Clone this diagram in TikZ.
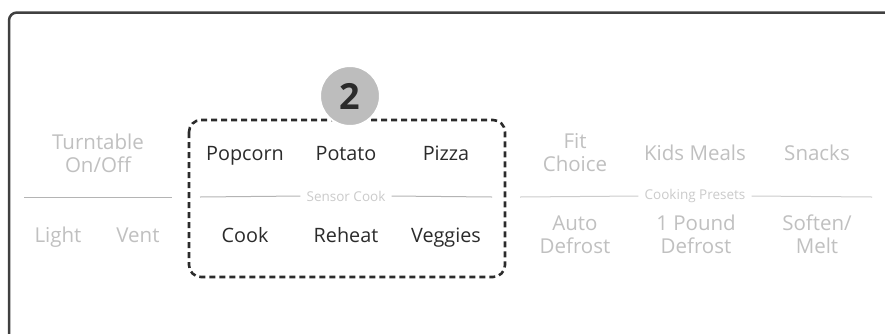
\documentclass[tikz,border=0pt]{standalone}
\usepackage{fontspec}
\setmainfont{Open Sans}
\usepackage{tikz}
\usetikzlibrary{positioning}
\definecolor{keydark}{HTML}{2B2B2B}
\definecolor{keygray}{HTML}{C0C0C0}
\definecolor{labelgray}{HTML}{CBCBCB}
\definecolor{rulegray}{HTML}{B4B4B4}
\definecolor{rulelight}{HTML}{CCCCCC}
\definecolor{badgegray}{HTML}{BDBDBD}
\tikzset{
  keyon/.style={anchor=base, text=keydark, font=\fontsize{19.8}{24}\selectfont, inner sep=0pt},
  keyoff/.style={anchor=base, text=keygray, font=\fontsize{20.5}{23}\selectfont, inner sep=0pt, align=center},
  grouplabel/.style={text=labelgray, font=\fontsize{13.5}{15}\selectfont, inner sep=0pt},
  grouprule/.style={line width=1pt},
}
\begin{document}
\begin{tikzpicture}[x=1pt,y=-1pt]
			\useasboundingbox (0,0) rectangle (885,333);
			\clip (0,0) rectangle (885,333);
			\fill[white] (0,0) rectangle (885,333);
			% panel edge
			\draw [line width=2.5pt, color=black!75, rounded corners=8pt] (9,400) -- (9,12.5) -- (960,12.5);
			% left column
			\node [keyoff] (turntable) at (98,172) {Turntable\\On/Off};
			\node [keyoff] (light) at (58,242) {Light};
			\node [keyoff] (vent) at (138,242) {Vent};
			\coordinate (leftA) at (24,197);
			\coordinate (leftB) at (172,197);
			\draw [grouprule, rulegray] (leftA) -- (leftB);
			% sensor cook
			\node [keyon] (popcorn) at (245,160) {Popcorn};
			\node [keyon] (potato) at (346,160) {Potato};
			\node [keyon] (pizza) at (446,160) {Pizza};
			\node [keyon] (cook) at (245,242) {Cook};
			\node [keyon] (reheat) at (346,242) {Reheat};
			\node [keyon] (veggies) at (446,242) {Veggies};
			\node [grouplabel] (sensor) at (346,196) {Sensor Cook};
			\coordinate (sensorA) at (200,197);
			\coordinate (sensorB) at (492,197);
			\draw [grouprule, rulegray] (sensorA) -- ([xshift=-6pt]sensor.west);
			\draw [grouprule, rulegray] ([xshift=6pt]sensor.east) -- (sensorB);
			% cooking presets
			\node [keyoff] (fit) at (575,171) {Fit\\Choice};
			\node [keyoff] (kids) at (695,160) {Kids Meals};
			\node [keyoff] (snacks) at (817,160) {Snacks};
			\node [keyoff] (auto) at (575,253) {Auto\\Defrost};
			\node [keyoff] (pound) at (696,253) {1 Pound\\Defrost};
			\node [keyoff] (soften) at (817,253) {Soften/\\Melt};
			\node [grouplabel] (presets) at (695,196) {Cooking Presets};
			\coordinate (presetA) at (520,197);
			\coordinate (presetB) at (872,197);
			\draw [grouprule, rulelight] (presetA) -- ([xshift=-6pt]presets.west);
			\draw [grouprule, rulelight] ([xshift=6pt]presets.east) -- (presetB);
			% highlight
			\draw [line width=2.6pt, color=keydark, dash pattern=on 6pt off 4pt, rounded corners=12pt] (189,120) rectangle (505,277);
			\node [circle, fill=badgegray, draw=white, line width=2pt, minimum size=60pt, inner sep=0pt, text=keydark, font=\fontsize{36}{36}\bfseries\selectfont] (badge) at (350,96) {2};
		\end{tikzpicture}
\end{document}
